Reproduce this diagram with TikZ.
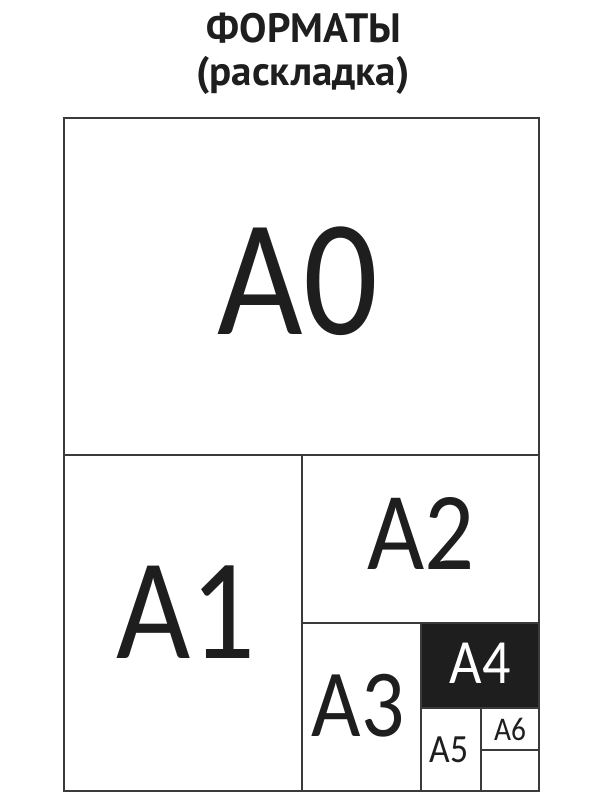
\documentclass[tikz,border=0pt]{standalone}
\usepackage{fontspec}
\setmainfont[FakeStretch=0.89]{Carlito}
\newfontfamily\titlefont{PT Sans}
\usetikzlibrary{positioning}
\definecolor{ink}{HTML}{1E1E1E}
\definecolor{rule}{HTML}{3A3A3A}
\tikzset{font=\normalsize}
\tikzset{sheet/.style={draw=rule,line width=2pt}}
\tikzset{fmt/.style={inner sep=0pt,text=ink}}
\newcommand{\fsz}[1]{\fontsize{#1}{#1}\selectfont}

\begin{document}
\begin{tikzpicture}[x=1pt,y=-1pt]
\useasboundingbox (0,0) rectangle (600,800);
\node[fmt,anchor=base,font=\titlefont\bfseries\fsz{41}] (title) at (304,43) {ФОРМАТЫ};
\node[fmt,anchor=base,font=\titlefont\bfseries\fsz{41}] (sub) at (303,85) {(раскладка)};
\fill[ink] (421,623) rectangle (539,708);
\draw[sheet] (64,118) rectangle (539,791);
\draw[sheet] (64,455) -- (539,455);
\draw[sheet] (302,455) -- (302,791);
\draw[sheet] (302,623) -- (539,623);
\draw[sheet] (421,623) -- (421,791);
\draw[sheet] (421,708) -- (539,708);
\draw[sheet] (481,708) -- (481,791);
\draw[sheet] (481,750) -- (539,750);
\node[fmt,font=\fsz{166}] (a0) at (298,281) {A0};
\node[fmt,font=\fsz{144}] (a1) at (186,612) {A1};
\node[fmt,font=\fsz{111}] (a2) at (421,533) {A2};
\node[fmt,font=\fsz{96}] (a3) at (358,706) {A3};
\node[fmt,font=\fsz{63},text=white] (a4) at (480,663) {A4};
\node[fmt,font=\fsz{40}] (a5) at (449,750) {A5};
\node[fmt,font=\fsz{33}] (a6) at (510,729) {A6};
\end{tikzpicture}
\end{document}
